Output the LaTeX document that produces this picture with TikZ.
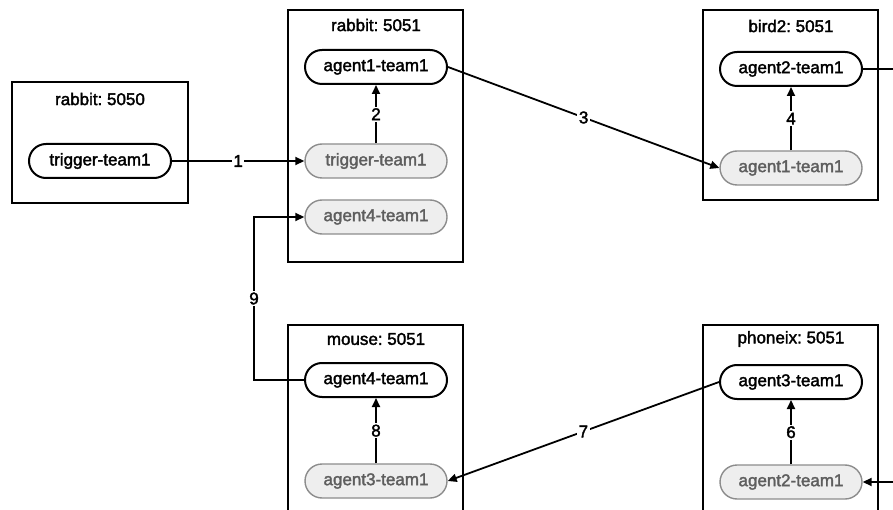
\documentclass[tikz,border=0pt]{standalone}
\usepackage{fontspec}
\setmainfont{Liberation Sans}
\newfontfamily\heavyface{Liberation Sans}[FakeBold=2]
\usetikzlibrary{arrows.meta}
\definecolor{ghostfill}{HTML}{EEEEEE}
\definecolor{ghostline}{HTML}{8C8C8C}
\definecolor{ghosttext}{HTML}{5E5E5E}
\frenchspacing
\begin{document}
\begin{tikzpicture}[x=1pt,y=-1pt,
  host/.style={draw, line width=2.8pt, inner sep=0pt},
  hosttitle/.style={font=\heavyface\fontsize{17}{17}\selectfont, inner sep=0pt},
  agent/.style={draw, line width=2pt, rounded corners=17pt, minimum width=142pt,
    minimum height=34pt, inner sep=0pt, font=\heavyface\fontsize{17}{17}\selectfont},
  relay/.style={agent, draw=ghostline, fill=ghostfill, text=ghosttext, line width=1.4pt},
  link/.style={line width=1.8pt, -{Triangle[length=9pt,width=8pt]}},
  seq/.style={fill=white, inner sep=1.5pt, font=\heavyface\fontsize{17}{17}\selectfont}
]
\clip (0,0) rectangle (893,510);

% hosts
\node (hostA) [host, minimum width=176pt, minimum height=121pt] at (100,142.5) {};
\node (hostB) [host, minimum width=175pt, minimum height=252pt] at (375.5,136) {};
\node (hostC) [host, minimum width=175pt, minimum height=190pt] at (790.5,105) {};
\node (hostD) [host, minimum width=175pt, minimum height=205pt] at (375.5,427.5) {};
\node (hostE) [host, minimum width=175pt, minimum height=205pt] at (790.5,427.5) {};

\node (titleA) [hosttitle] at (100,99) {rabbit: 5050};
\node (titleB) [hosttitle] at (376,25) {rabbit: 5051};
\node (titleC) [hosttitle] at (791,26) {bird2: 5051};
\node (titleD) [hosttitle] at (376,339) {mouse: 5051};
\node (titleE) [hosttitle] at (791,339) {phoneix: 5051};

% agents
\node (trigA)  [agent] at (100,161) {trigger-team1};
\node (ag1B)   [agent] at (376,67)  {agent1-team1};
\node (trigB)  [relay] at (376,161) {trigger-team1};
\node (ag4B)   [relay] at (376,217) {agent4-team1};
\node (ag2C)   [agent] at (791,69)  {agent2-team1};
\node (ag1C)   [relay] at (791,168) {agent1-team1};
\node (ag4D)   [agent] at (376,380) {agent4-team1};
\node (ag3D)   [relay] at (376,481) {agent3-team1};
\node (ag3E)   [agent] at (791,382) {agent3-team1};
\node (ag2E)   [relay] at (791,482) {agent2-team1};

\coordinate (outC) at (900,69);
\coordinate (inE)  at (900,482);

% message flow
\draw[link] (trigA.east) -- node[seq] {1} (trigB.west);
\draw[link] (trigB.north) -- node[seq] {2} (ag1B.south);
\draw[link] (ag1B.east) -- node[seq] {3} (ag1C.west);
\draw[link] (ag1C.north) -- node[seq] {4} (ag2C.south);
\draw[line width=1.8pt] (ag2C.east) -- (outC);
\draw[link] (inE) -- (ag2E.east);
\draw[link] (ag2E.north) -- node[seq] {6} (ag3E.south);
\draw[link] (ag3E.west) -- node[seq] {7} (ag3D.east);
\draw[link] (ag3D.north) -- node[seq] {8} (ag4D.south);
\draw[link] (ag4D.west) -- ++(-50,0) |- node[seq, pos=0.25] {9} (ag4B.west);
\end{tikzpicture}
\end{document}
